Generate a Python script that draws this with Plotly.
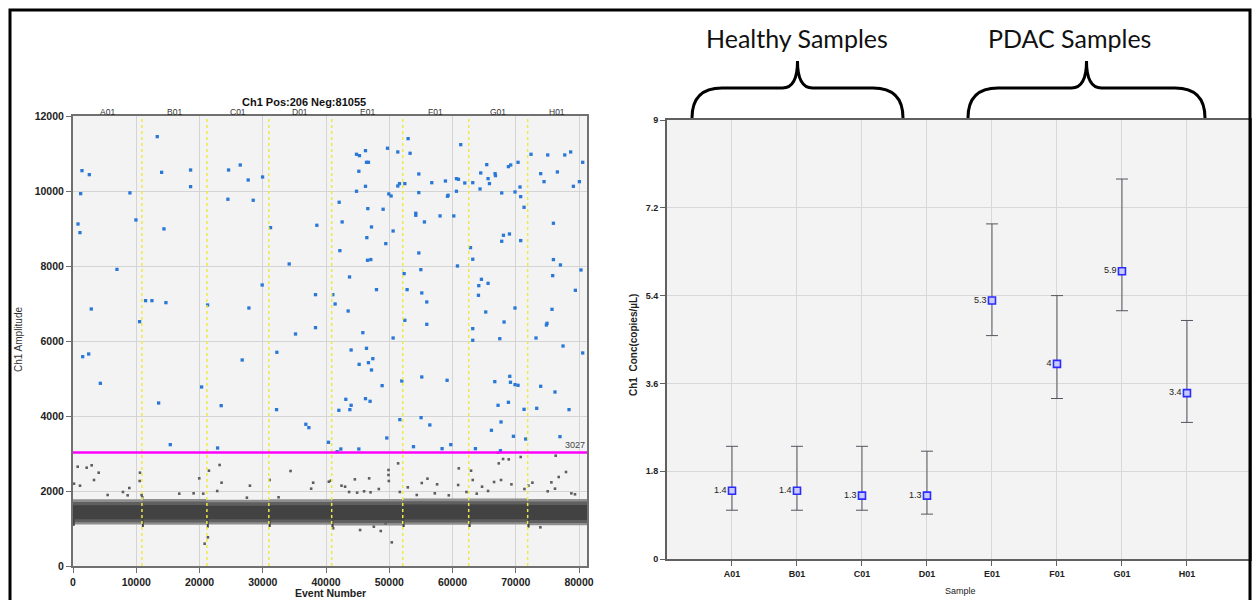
import plotly.graph_objects as go

W, H = 1256, 600

# ---------------- droplet amplitude plot (left) ----------------
well_names = ["A01", "B01", "C01", "D01", "E01", "F01", "G01", "H01"]
well_edges = [0, 10900, 21170, 30960, 40900, 52130, 62560, 71880, 81261]
pos_count = 206
neg_count = 81055
threshold = 3027

# positive droplets (event number, amplitude)
pos_event = [
    13320, 1420, 2580, 14010, 18590, 24600, 26440, 18590, 1210, 9000, 24490, 9950, 790, 1100,
    14380, 6950, 11480, 12480, 14690, 21280, 2890, 10530, 1530, 2480, 26750, 4320, 20330,
    13540, 23430, 15380, 22860,
    27700, 29970, 28490, 31230, 38550, 34180, 29910, 38340, 41080, 41440, 27810, 43500, 38340,
    35180, 32230, 32180, 36810, 37290, 40390, 41760, 42340, 45190, 49610, 51670, 53830,
    44820, 45290, 46240, 46400, 46710, 45190, 46240, 49720, 51350, 52980, 53290, 51350, 51620,
    52460, 44820, 49930, 50290, 42080, 46610, 49030, 42550, 47190, 50610, 46450, 49450, 42190,
    46560, 47080, 43720, 52350, 47980, 52820, 52460, 45820, 50610, 43970, 46400, 47400, 46710,
    45240, 47190, 48870, 51980, 43130, 46240, 46970, 43970, 42030, 43770,
    61300, 54670, 56720, 58880, 60620, 60940, 61940, 63200, 64460, 65410, 66730, 66790, 65620,
    65840, 64350, 68840, 69200, 70360, 72410, 75050, 77740, 78680, 80580, 73940, 76580, 74470,
    80060, 79110, 70670, 54670, 59200, 59300, 60620, 67780, 69880, 70780, 71310, 54190, 54190,
    55560, 58030, 60200, 75950, 68050, 69000, 67780, 70780, 62840, 63200, 54670, 54990, 60780,
    75950, 77060, 75840, 80310, 64570, 65620, 64150, 64100, 55140, 55930, 79420, 65250, 69880,
    75730, 68150, 74840, 74940, 55930, 63200, 63200, 67470, 73200, 77470, 80580, 55140, 59140,
    66680, 69050, 69160, 69880, 70360, 73940, 76200, 67200, 68840, 71310, 73310, 78420, 55030,
    56410, 67670, 66150, 69630, 71570, 76990, 58350, 59720, 63620, 67580,
]
pos_amp = [
    11450, 10543, 10436, 10498, 10560, 10560, 10694, 10116, 9930, 9950, 9780, 9228, 9120, 8890,
    8990, 7910, 7076, 7076, 7023, 6960, 6854, 6516, 5582, 5654, 5494, 4872, 4774,
    4347, 4276, 3236, 3147,
    10294, 10374, 9753, 9023, 9086, 8054, 7494, 7236, 7236, 6987, 6880, 6800, 6356,
    6187, 5699, 4170, 3779, 3690, 3299, 3048, 3120, 3120, 3414, 3903, 3182,
    10979, 10943, 11076, 10765, 10765, 10526, 10125, 11140, 11041, 11396, 11006, 10134, 10197,
    10197, 9993, 9922, 9868, 9700, 9530, 9513, 9175, 9041, 8934, 8756, 8596, 8410,
    8153, 8171, 7708, 7797, 7370, 7370, 6552, 6222, 6080, 5760, 5805, 5529, 5422,
    5378, 5227, 4809, 4934, 4445, 4463, 4392, 4285, 4152, 4170,
    11236, 10454, 10222, 10267, 10330, 10312, 10214, 10222, 10481, 10703, 10463, 10410, 10330,
    10197, 10054, 10650, 10694, 10765, 10979, 10961, 10961, 11041, 10765, 10463, 10508, 10249,
    10249, 10125, 10107, 9957, 9860, 9886, 9993, 9948, 9975, 9850, 9566, 9406, 9353,
    9175, 9335, 9335, 9140, 8819, 8854, 8659, 8677, 8490, 8180, 8348, 7903, 8001,
    8171, 8028, 7743, 7894, 7645, 7538, 7476, 7219, 7281, 7041, 7352, 6774, 6880,
    6845, 6507, 6427, 6472, 6445, 6329, 6019, 6062, 6080, 5867, 5681, 5041, 4952,
    4916, 5059, 4899, 4836, 4819, 4792, 4640, 4285, 4365, 4178, 4205, 4170, 3956,
    3761, 3841, 3619, 3459, 3387, 3449, 3129, 3236, 3129, 3076,
]

# scattered negative droplets outside the main band
rain_event = [
    160, 740, 1110, 2160, 2950, 3320, 4060, 5480, 7900, 8640, 8900, 10590, 10540, 10850, 10950,
    16800, 19070, 19960, 20590, 20810, 21330, 21490, 22800, 23180, 23490, 27490, 27970, 31080,
    32500, 34390, 37650, 37970,
    40450, 40760, 41130, 42450, 43020, 43650, 44560, 44920, 45390, 46020, 46820, 47040, 47560,
    48350, 48660, 49410, 49880, 49880, 49930, 50400, 51400, 51670, 52930, 54350, 55140, 56040,
    57200, 57560, 59410, 60890, 60990, 62200, 62930, 63200, 63830, 64670, 65620, 66570, 67200,
    67310, 67670, 67990, 68890, 69310, 70780, 71370, 72000, 72630, 73890, 75050, 75630, 76200,
    76310, 76790, 77940, 78790, 79360,
]
rain_amp = [
    2195, 2648, 2142, 2622, 2685, 2293, 2488, 1894, 1974, 1885, 2080, 2488, 2267, 1894, 1832,
    1929, 1938, 2338, 1929, 595, 765, 2542, 2000, 2694, 2222, 1822, 2142, 2293,
    1832, 2533, 2062, 2222,
    2248, 2275, 1005, 2142, 2115, 1974, 2311, 1956, 960, 1992, 2338, 1965, 1048,
    2053, 933, 1138, 2560, 2427, 2267, 631, 2737, 1974, 2098, 1894, 2213, 2329,
    1938, 2178, 1885, 2160, 2604, 1974, 2542, 2293, 1929, 2115, 2000, 2240, 3022,
    2737, 2293, 2853, 2844, 2178, 2907, 2053, 2142, 2222, 1032, 1992, 2231, 2062,
    2942, 2373, 2507, 1938, 1912,
]

# dense negative band, per well: outer / middle / core envelopes
band_outer_top = [1780, 1790, 1770, 1780, 1790, 1800, 1800, 1790]
band_outer_low = [1110, 1100, 1110, 1100, 1080, 1100, 1110, 1090]
band_mid_top = [1710, 1720, 1700, 1710, 1720, 1730, 1730, 1720]
band_mid_low = [1170, 1160, 1170, 1160, 1150, 1160, 1170, 1150]
band_core_top = [1620, 1630, 1610, 1620, 1630, 1640, 1640, 1630]
band_core_low = [1250, 1240, 1250, 1240, 1230, 1240, 1250, 1230]
band_start_low = [1080, 1040, 1030, 1040, 1030, 1040, 1040, 1030]
band_start_len = 260

# ---------------- concentration plot (right) ----------------
samples = well_names
conc = [1.4, 1.4, 1.3, 1.3, 5.3, 4.0, 5.9, 3.4]
ci_high = [2.31, 2.31, 2.31, 2.21, 6.87, 5.40, 7.79, 4.89]
ci_low = [1.00, 1.00, 1.00, 0.92, 4.58, 3.29, 5.09, 2.80]
conc_ticks = [0, 1.8, 3.6, 5.4, 7.2, 9]
groups = ["Healthy Samples", "PDAC Samples"]


def pxx(p):
    return p / W


def pxy(p):
    return 1 - p / H


FONT = "Liberation Sans, Arial, sans-serif"
NARROW = "Liberation Sans Narrow, Liberation Sans, Arial, sans-serif"

fig = go.Figure()

# negative band polygons
layers = [
    (band_outer_top, band_outer_low, "#8e8e8e"),
    (band_mid_top, band_mid_low, "#5f5f5f"),
    (band_core_top, band_core_low, "#424242"),
]
for tops, lows, col in layers:
    for i in range(len(well_names)):
        s, e = well_edges[i], well_edges[i + 1]
        dip = min(band_start_low[i], lows[i])
        xs = [s, e, e, s + band_start_len, s + band_start_len, s, s]
        ys = [tops[i], tops[i], lows[i], lows[i], dip, dip, tops[i]]
        fig.add_trace(go.Scatter(
            x=xs, y=ys, mode="lines", fill="toself", fillcolor=col,
            line=dict(width=0, color=col), hoverinfo="skip", showlegend=False,
            xaxis="x", yaxis="y"))

fig.add_trace(go.Scatter(
    x=rain_event, y=rain_amp, mode="markers",
    marker=dict(symbol="square", size=2.6, color="#5e5e5e"),
    showlegend=False, xaxis="x", yaxis="y"))

fig.add_trace(go.Scatter(
    x=pos_event, y=pos_amp, mode="markers",
    marker=dict(symbol="square", size=3.3, color="#2a78d6"),
    showlegend=False, xaxis="x", yaxis="y"))

# concentration with confidence intervals
xpos = list(range(1, len(samples) + 1))
fig.add_trace(go.Scatter(
    x=xpos, y=conc, mode="markers+text",
    text=[f"{v:g}" for v in conc], textposition="middle left",
    textfont=dict(family=NARROW, size=9, color="#222222"),
    marker=dict(symbol="square", size=7, color="#c9cbff",
                line=dict(color="#2b2bff", width=1.6)),
    error_y=dict(type="data", symmetric=False,
                 array=[h - c for h, c in zip(ci_high, conc)],
                 arrayminus=[c - l for c, l in zip(conc, ci_low)],
                 color="#55555f", thickness=1, width=6),
    showlegend=False, xaxis="x2", yaxis="y2"))

total_events = pos_count + neg_count

shapes = []
# well separators
for edge in well_edges[1:-1]:
    shapes.append(dict(type="line", xref="x", yref="y", x0=edge, x1=edge, y0=0, y1=12000,
                       line=dict(color="#eee84a", width=1.5, dash="dot"), layer="above"))
# threshold
shapes.append(dict(type="line", xref="x", yref="y", x0=0, x1=total_events,
                   y0=threshold, y1=threshold,
                   line=dict(color="#ff00ff", width=2.5), layer="above"))


def brace(x0, x1, ytip, ymid, yend):
    xm = (x0 + x1) / 2
    pts = [
        ("M", [(x0, yend)]),
        ("Q", [(x0, ymid), (x0 + 30, ymid)]),
        ("L", [(xm - 15, ymid)]),
        ("Q", [(xm, ymid), (xm, ytip)]),
        ("Q", [(xm, ymid), (xm + 15, ymid)]),
        ("L", [(x1 - 30, ymid)]),
        ("Q", [(x1, ymid), (x1, yend)]),
    ]
    out = []
    for cmd, ps in pts:
        out.append(cmd + " " + " ".join(f"{pxx(a):.5f},{pxy(b):.5f}" for a, b in ps))
    return " ".join(out)


shapes.append(dict(type="path", xref="paper", yref="paper", path=brace(692, 903, 61, 88, 118),
                   line=dict(color="black", width=3)))
shapes.append(dict(type="path", xref="paper", yref="paper", path=brace(968, 1205, 61, 88, 118),
                   line=dict(color="black", width=3)))
# outer frame
shapes.append(dict(type="rect", xref="paper", yref="paper", x0=pxx(10), x1=pxx(1250),
                   y0=pxy(610), y1=pxy(10), line=dict(color="black", width=3), layer="above"))


def note(text, x, y, size, family=FONT, color="#222", angle=0, xref="paper", yref="paper",
         xanchor="center", yanchor="middle"):
    return dict(text=text, x=x, y=y, xref=xref, yref=yref, showarrow=False, textangle=angle,
                xanchor=xanchor, yanchor=yanchor,
                font=dict(family=family, size=size, color=color))


annotations = [
    note(f"<b>Ch1 Pos:{pos_count} Neg:{neg_count}</b>", pxx(304), pxy(102), 11, color="#111"),
    note(str(threshold), total_events, threshold, 9, color="#444", xref="x", yref="y",
         xanchor="right", yanchor="bottom"),
    note("Ch1 Amplitude", pxx(18), pxy(340), 10, family=NARROW, color="#333", angle=-90),
    note("<b>Event Number</b>", pxx(330), pxy(593), 10.5),
    note("<b>Ch1  Conc(copies/µL)</b>", pxx(633), pxy(345), 10, angle=-90),
    note("Sample", pxx(960), pxy(591), 9, family=NARROW),
    note(groups[0], pxx(797), pxy(38), 25, family="Lato, Open Sans, sans-serif", color="#111"),
    note(groups[1], pxx(1069), pxy(38), 25, family="Lato, Open Sans, sans-serif", color="#111"),
]
for i, name in enumerate(well_names):
    annotations.append(note(name, (well_edges[i] + well_edges[i + 1]) / 2, pxy(112), 8.5,
                            color="#333", xref="x"))

axis_common = dict(showline=True, mirror=True, ticks="outside", ticklen=5, zeroline=False,
                   showgrid=True, automargin=False)

fig.update_layout(
    width=W, height=H, margin=dict(l=0, r=0, t=0, b=0, autoexpand=False),
    paper_bgcolor="white", plot_bgcolor="#f3f3f3",
    showlegend=False,
    xaxis=dict(domain=[pxx(73), pxx(587)], range=[0, total_events], anchor="y",
               tickvals=list(range(0, 80001, 10000)), tickformat="d", gridcolor="#d4d4d4",
               linecolor="#707070", linewidth=2, tickcolor="#707070",
               tickfont=dict(family=FONT, size=10.5, color="#222", weight="bold"), **axis_common),
    yaxis=dict(domain=[pxy(566), pxy(116)], range=[0, 12000], anchor="x",
               tickvals=list(range(0, 12001, 2000)), tickformat="d", gridcolor="#d4d4d4",
               linecolor="#707070", linewidth=2, tickcolor="#707070",
               tickfont=dict(family=FONT, size=10.5, color="#222", weight="bold"), **axis_common),
    xaxis2=dict(domain=[pxx(667), pxx(1250)], range=[0, 8.97], anchor="y2",
                tickvals=xpos, ticktext=samples, gridcolor="#d8d8d8",
                linecolor="#606060", linewidth=2, tickcolor="#606060",
                tickfont=dict(family=NARROW, size=9, color="#222", weight="bold"), **axis_common),
    yaxis2=dict(domain=[pxy(559), pxy(120)], range=[0, 9], anchor="x2",
                tickvals=conc_ticks, ticktext=[f"{v:g}" for v in conc_ticks],
                gridcolor="#d8d8d8", linecolor="#606060", linewidth=2, tickcolor="#606060",
                tickfont=dict(family=NARROW, size=9, color="#222", weight="bold"), **axis_common),
    shapes=shapes,
    annotations=annotations,
)

fig.write_html("out.html")
